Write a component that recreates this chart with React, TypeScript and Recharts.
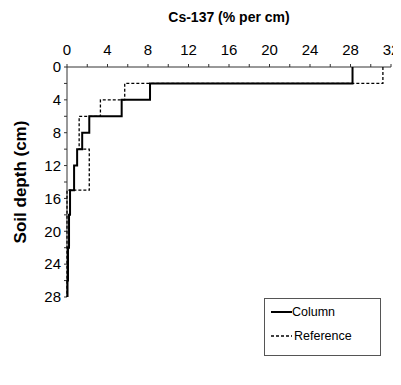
import { ScatterChart, Scatter, XAxis, YAxis, Label } from "recharts"

// layer boundaries (cm) and Cs-137 share per layer (% per cm)
const columnEdges = [0, 2, 4, 6, 8, 10, 12, 15, 18, 22, 26, 28]
const columnValues = [28.2, 8.2, 5.4, 2.2, 1.5, 1.0, 0.7, 0.3, 0.2, 0.1, 0.05]

const referenceEdges = [0, 2, 4, 6, 10, 15, 28]
const referenceValues = [31.2, 5.7, 3.3, 1.2, 2.2, 0]

const xTicks = [0, 2, 4, 6, 8, 10, 12, 14, 16, 18, 20, 22, 24, 26, 28, 30, 32]
const yTicks = [0, 2, 4, 6, 8, 10, 12, 14, 16, 18, 20, 22, 24, 26, 28]

const FONT = "'Liberation Sans', Arial, sans-serif"

function steps(edges: number[], values: number[]) {
  const pts: { x: number; y: number }[] = []
  values.forEach((v, i) => {
    pts.push({ x: v, y: edges[i] })
    pts.push({ x: v, y: edges[i + 1] })
  })
  return pts
}

const columnPts = steps(columnEdges, columnValues)
const referencePts = steps(referenceEdges, referenceValues)

const noDot = () => <g />

function LegendBox() {
  return (
    <div
      style={{
        position: "absolute", left: 264, top: 298, width: 115, height: 56,
        border: "1px solid #555", fontFamily: FONT, fontSize: 12.5, color: "#000",
        background: "#fff",
      }}
    >
      <div style={{ position: "absolute", left: 6, top: 6, display: "flex", alignItems: "center" }}>
        <svg width={21} height={10}><line x1={0} y1={5} x2={21} y2={5} stroke="#000" strokeWidth={2} /></svg>
        <span>Column</span>
      </div>
      <div style={{ position: "absolute", left: 6, top: 30, display: "flex", alignItems: "center" }}>
        <svg width={21} height={10}><line x1={0} y1={5} x2={21} y2={5} stroke="#000" strokeWidth={1.3} strokeDasharray="3 2" /></svg>
        <span style={{ marginLeft: 2 }}>Reference</span>
      </div>
    </div>
  )
}

export default function App() {
  const tick = { fontSize: 15, fill: "#000", fontFamily: FONT }
  return (
    <div style={{ position: "relative", width: 401, height: 376, margin: "-8px 0 0 -8px" }}>
      <ScatterChart width={401} height={376} margin={{ top: 12, right: 10, bottom: 79, left: 8 }}>
        <XAxis
          type="number" dataKey="x" orientation="top" domain={[0, 32]} ticks={xTicks}
          interval={0} height={55} tickSize={3} tickMargin={9} stroke="#333"
          tick={tick} tickFormatter={(v: number) => (v % 4 === 0 ? String(v) : "")}
        >
          <Label value="Cs-137 (% per cm)" position="insideTop" offset={0}
            style={{ fontSize: 14, fontWeight: "bold", fontFamily: FONT, fill: "#000" }} />
        </XAxis>
        <YAxis
          type="number" dataKey="y" reversed domain={[0, 28]} ticks={yTicks}
          interval={0} width={59} tickSize={3} tickMargin={3} stroke="#333"
          tick={tick} tickFormatter={(v: number) => (v % 4 === 0 ? String(v) : "")}
        >
          <Label value="Soil depth (cm)" angle={-90} position="insideLeft" offset={12}
            style={{ fontSize: 17, fontWeight: "bold", fontFamily: FONT, fill: "#000", textAnchor: "middle" }} />
        </YAxis>
        <Scatter data={referencePts} line={{ stroke: "#000", strokeWidth: 1.3, strokeDasharray: "3 2" }}
          shape={noDot} isAnimationActive={false} />
        <Scatter data={columnPts} line={{ stroke: "#000", strokeWidth: 2 }}
          shape={noDot} isAnimationActive={false} />
      </ScatterChart>
      <LegendBox />
    </div>
  )
}
